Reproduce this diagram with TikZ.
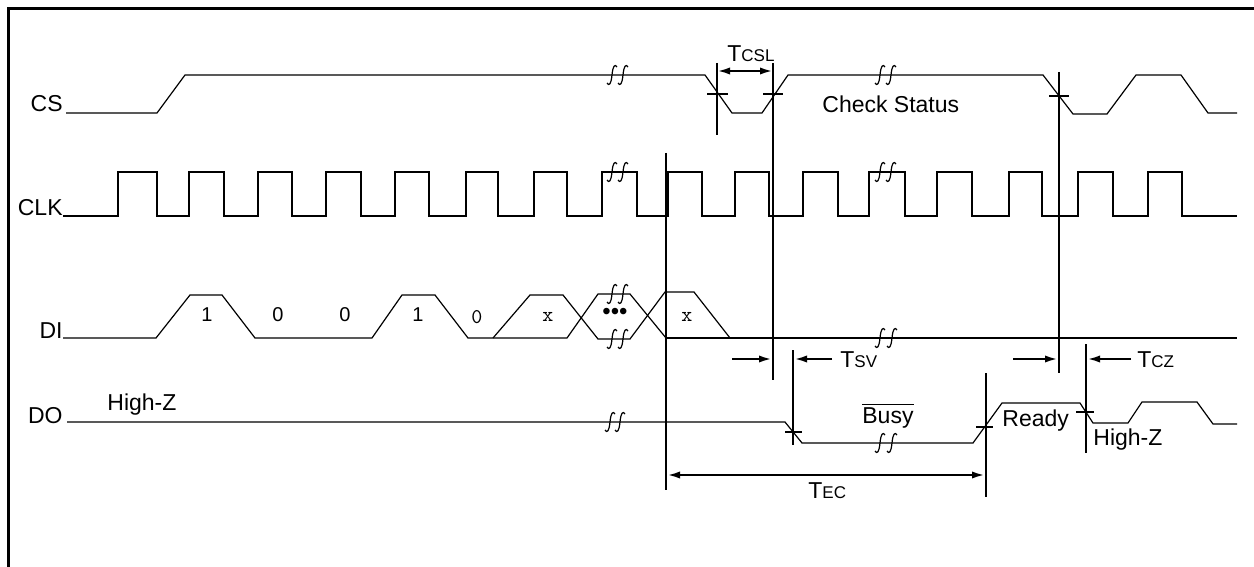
\documentclass[tikz,border=0pt]{standalone}
\usepackage{fontspec}
\setmainfont{Liberation Sans}
\usetikzlibrary{arrows.meta}
\begin{document}
\begin{tikzpicture}[x=0.5pt,y=-0.5pt,
  sig/.style={line width=0.6pt},
  sigb/.style={line width=1.1pt},
  vline/.style={line width=1.2pt},
  tick/.style={line width=1.2pt},
  frame/.style={line width=1.5pt},
  dimone/.style={line width=1.2pt,-{Latex[length=6.5pt,width=3.6pt]}},
  dimboth/.style={line width=1.2pt,{Latex[length=6.5pt,width=3.6pt]}-{Latex[length=6.5pt,width=3.6pt]}},
  lbl/.style={inner sep=0pt,font=\fontsize{11.5}{13}\selectfont},
  bit/.style={inner sep=0pt,font=\fontsize{10}{12}\selectfont},
  mono/.style={inner sep=0pt,font=\ttfamily\fontsize{10.5}{12}\selectfont},
  brk/.pic={\draw[line width=0.6pt] (-5,8) .. controls (-3,11) and (-1,10) .. (0,0)
     .. controls (1,-10) and (3,-11) .. (5,-8);}
]
\useasboundingbox (0,0) rectangle (1254,567);
% frame
\coordinate (fbl) at (8,567);
\coordinate (ftl) at (8,9);
\coordinate (ftr) at (1254,9);
\draw[frame] (fbl) -- (ftl) -- (ftr);

% signal names
\node[lbl,anchor=base east] (ncs)  at (63,112) {CS};
\node[lbl,anchor=base east] (nclk) at (63,215) {CLK};
\node[lbl,anchor=base east] (ndi)  at (63,338) {DI};
\node[lbl,anchor=base east] (ndo)  at (63,423) {DO};

% CS
\draw[sig] (66,113) -- (157,113) -- (185,75) -- (705,75) -- (732,113) -- (762,113)
  -- (788,75) -- (1043,75) -- (1073,114) -- (1107,114) -- (1136,75) -- (1181,75)
  -- (1208,113) -- (1237,113);
\pic at (612,75) {brk}; \pic at (623,75) {brk};
\pic at (880,75) {brk}; \pic at (891,75) {brk};

% CLK
\draw[sigb] (63,216) \foreach \r/\f in {118/157,189/224,258/292,326/361,395/429,466/498,
  534/567,602/637,668/702,735/769,803/838,869/905,937/972,1009/1042,1078/1113,1148/1182}
  { -- (\r,216) -- (\r,172) -- (\f,172) -- (\f,216) } -- (1237,216);
\pic at (612,172) {brk}; \pic at (623,172) {brk};
\pic at (880,172) {brk}; \pic at (891,172) {brk};

% DI
\draw[sig] (63,338) -- (156,338) -- (190,295) -- (222,295) -- (255,338) -- (372,338)
  -- (402,295) -- (435,295) -- (468,338) -- (567,338) -- (598,294) -- (630,294) -- (666,338);
\draw[sig] (493,338) -- (530,295) -- (563,295) -- (598,339) -- (630,339) -- (665,292)
  -- (694,292) -- (730,338);
\draw[sigb] (666,338) -- (1237,338);
\pic at (612,294) {brk}; \pic at (623,294) {brk};
\pic at (612,339) {brk}; \pic at (623,339) {brk};
\pic at (880,338) {brk}; \pic at (892,338) {brk};
\node[bit] (b1) at (207,315) {1};
\node[bit] (b2) at (278,315) {0};
\node[bit] (b3) at (345,315) {0};
\node[bit] (b4) at (418,315) {1};
\node[mono] (b5) at (477,317) {0};
\node[mono] (b6) at (548,317) {x};
\node[inner sep=0pt,font=\fontsize{12}{12}\selectfont] (dots) at (615,314) {•••};
\node[mono] (b7) at (687,317) {x};

% DO
\draw[sig] (67,422) -- (785,422) -- (802,443) -- (973,443) -- (1002,403) -- (1080,403)
  -- (1093,423) -- (1128,423) -- (1142,402) -- (1197,402) -- (1213,424) -- (1237,424);
\pic at (610,422) {brk}; \pic at (620,422) {brk};
\pic at (880,443) {brk}; \pic at (892,443) {brk};

% vertical reference lines
\coordinate (v1a) at (717,63);   \coordinate (v1b) at (717,135);
\coordinate (v2a) at (773,63);   \coordinate (v2b) at (773,380);
\coordinate (v3a) at (1059,72);  \coordinate (v3b) at (1059,373);
\coordinate (v4a) at (666,153);  \coordinate (v4b) at (666,490);
\coordinate (v5a) at (793,350);  \coordinate (v5b) at (793,445);
\coordinate (v6a) at (986,373);  \coordinate (v6b) at (986,497);
\coordinate (v7a) at (1086,344); \coordinate (v7b) at (1086,453);
\foreach \v in {1,...,7} { \draw[vline] (v\v a) -- (v\v b); }

% crossing ticks
\draw[tick] (707,94) -- (728,94);
\draw[tick] (763,94) -- (783,94);
\draw[tick] (1049,96) -- (1069,96);
\draw[tick] (785,432) -- (802,432);
\draw[tick] (976,427) -- (993,427);
\draw[tick] (1076,412) -- (1094,412);

% timing arrows
\coordinate (csl1) at (717,71); \coordinate (csl2) at (773,71);
\draw[dimboth] (csl1) -- (csl2);
\node[lbl,anchor=base west] (tcsl) at (727,62) {T{\fontsize{8.5}{10}\selectfont CSL}};

\coordinate (sv1) at (732,359); \coordinate (sv2) at (772,359);
\coordinate (sv3) at (832,359); \coordinate (sv4) at (794,359);
\draw[dimone] (sv1) -- (sv2);
\draw[dimone] (sv3) -- (sv4);
\node[lbl,anchor=base west] (tsv) at (840,367) {T{\fontsize{8.5}{10}\selectfont SV}};

\coordinate (cz1) at (1013,359); \coordinate (cz2) at (1058,359);
\coordinate (cz3) at (1131,359); \coordinate (cz4) at (1087,359);
\draw[dimone] (cz1) -- (cz2);
\draw[dimone] (cz3) -- (cz4);
\node[lbl,anchor=base west] (tcz) at (1137,367) {T{\fontsize{8.5}{10}\selectfont CZ}};

\coordinate (ec1) at (667,475); \coordinate (ec2) at (985,475);
\draw[dimboth] (ec1) -- (ec2);
\node[lbl,anchor=base west] (tec) at (808,498) {T{\fontsize{8.5}{10}\selectfont EC}};

% other labels
\node[lbl,anchor=base west] (chk) at (822,113) {Check Status};
\node[lbl,anchor=base west] (hz1) at (107,410) {High-Z};
\node[lbl,anchor=base west] (busy) at (862,423) {$\overline{\mbox{Busy}}$};
\node[lbl,anchor=base west] (rdy) at (1002,426) {Ready};
\node[lbl,anchor=base west] (hz2) at (1093,445) {High-Z};
\end{tikzpicture}
\end{document}
